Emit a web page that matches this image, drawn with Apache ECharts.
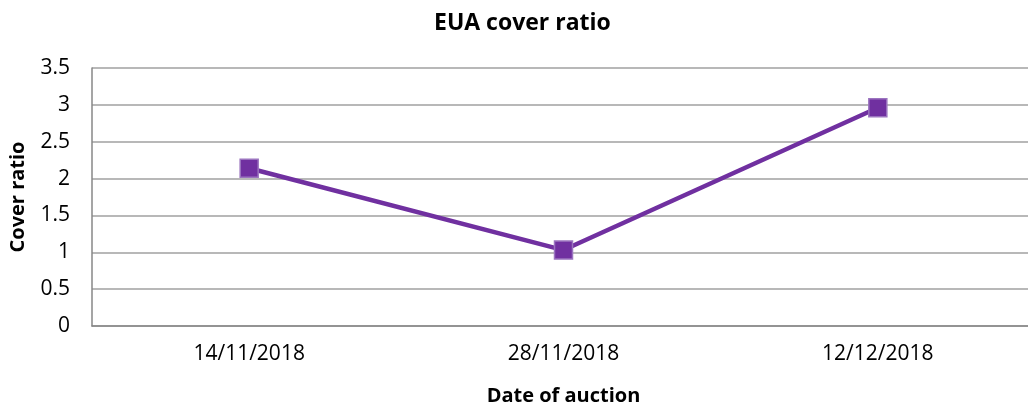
<!DOCTYPE html>
<html>
<head>
<meta charset="utf-8">
<script src="https://cdn.jsdelivr.net/npm/echarts@6/dist/echarts.min.js"></script>
<style>html,body{margin:0;padding:0;background:#fff;}#c{width:1028px;height:403px;}</style>
</head>
<body>
<div id="c"></div>
<script>
const categories = ['14/11/2018', '28/11/2018', '12/12/2018'];
const coverRatio = [2.14, 1.03, 2.96];
const yTicks = [0, 0.5, 1, 1.5, 2, 2.5, 3, 3.5];

const chart = echarts.init(document.getElementById('c'));
const font = '"Open Sans", "Liberation Sans", sans-serif';
chart.setOption({
  animation: false,
  backgroundColor: '#fff',
  title: {
    text: 'EUA cover ratio', left: 429, top: 7,
    textStyle: { fontFamily: font, fontSize: 23, fontWeight: 'bold', color: '#000' }
  },
  grid: { left: 92, top: 68, width: 943, height: 258, outerBoundsMode: 'none', containLabel: false },
  xAxis: {
    type: 'category', data: categories, boundaryGap: true,
    name: 'Date of auction', nameLocation: 'middle', nameGap: 60,
    nameTextStyle: { fontFamily: font, fontSize: 20, fontWeight: 'bold', color: '#000' },
    axisLine: { lineStyle: { color: '#878787', width: 1.5 } },
    axisTick: { show: false },
    axisLabel: { fontFamily: font, fontSize: 21, color: '#000', margin: 18 }
  },
  yAxis: {
    type: 'value', min: 0, max: 3.5, interval: 0.5,
    name: 'Cover ratio', nameLocation: 'middle', nameGap: 64, nameRotate: 90,
    nameTextStyle: { fontFamily: font, fontSize: 20, fontWeight: 'bold', color: '#000' },
    axisLine: { show: true, lineStyle: { color: '#878787', width: 1.5 } },
    axisTick: { show: false },
    splitLine: { lineStyle: { color: '#a0a0a0', width: 1.5 } },
    axisLabel: { fontFamily: font, fontSize: 21, color: '#000', margin: 22,
      formatter: v => yTicks.includes(v) ? String(v) : '' }
  },
  series: [{
    type: 'line', data: coverRatio,
    symbol: 'rect', symbolSize: 18,
    lineStyle: { color: '#7030A0', width: 4.5 },
    itemStyle: { color: '#7030A0', borderColor: '#9B74BF', borderWidth: 1.5 }
  }]
});
</script>
</body>
</html>
